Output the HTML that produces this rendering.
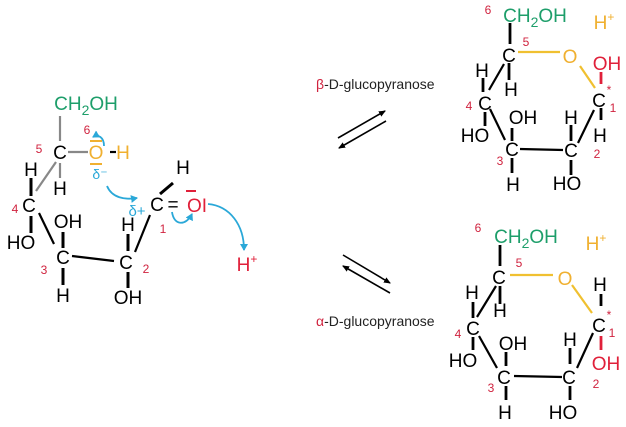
<!DOCTYPE html>
<html><head><meta charset="utf-8"><style>
html,body{margin:0;padding:0;background:#fff;}
svg{display:block;}
text{font-family:"Liberation Sans",sans-serif;}
.a{font-size:19px;fill:#000;text-anchor:middle;}
.n{font-size:12px;fill:#d0233f;text-anchor:middle;}
.g{fill:#1d9e6a;}
.o{fill:#f0b030;}
.r{fill:#e0203a;}
.b{fill:#2aa8d8;}
</style></head><body>
<svg width="626" height="427" viewBox="0 0 626 427" xmlns="http://www.w3.org/2000/svg">
<defs>
<marker id="ab" markerWidth="8" markerHeight="8" refX="6" refY="4" orient="auto" markerUnits="userSpaceOnUse"><path d="M0,0 L7,4 L0,8 Z" fill="#2aa8d8"/></marker>
<marker id="ak" markerWidth="8" markerHeight="8" refX="6" refY="4" orient="auto" markerUnits="userSpaceOnUse"><path d="M0,1 L7,4 L0,7 Z" fill="#000"/></marker>
</defs>

<!-- ===== LEFT open-chain ===== -->
<g stroke-width="2.2" fill="none">
<line x1="60" y1="116" x2="60" y2="141" stroke="#888"/>
<line x1="68" y1="152" x2="88" y2="152" stroke="#888"/>
<line x1="56" y1="162" x2="36" y2="191" stroke="#888"/>
<line x1="60" y1="163" x2="60" y2="178" stroke="#888"/>
<line x1="110" y1="152" x2="116" y2="152" stroke="#000"/>
<line x1="31" y1="178" x2="31" y2="196" stroke="#000" stroke-width="3"/>
<line x1="31" y1="216" x2="31" y2="233" stroke="#000" stroke-width="3"/>
<line x1="39" y1="213" x2="54" y2="244" stroke="#000"/>
<line x1="63" y1="232" x2="63" y2="248" stroke="#000" stroke-width="3"/>
<line x1="72" y1="256" x2="114" y2="261" stroke="#000"/>
<line x1="63" y1="268" x2="63" y2="285" stroke="#000" stroke-width="3"/>
<line x1="128" y1="234" x2="128" y2="251" stroke="#000" stroke-width="3"/>
<line x1="128" y1="272" x2="128" y2="288" stroke="#000" stroke-width="3"/>
<line x1="135" y1="252" x2="150" y2="215" stroke="#000"/>
<line x1="160" y1="194" x2="173" y2="183" stroke="#000" stroke-width="3"/>
<path d="M104,146 C104,137 98,134 93,137" stroke="#2aa8d8" stroke-width="1.8" marker-end="url(#ab)"/>
<path d="M107,186 C112,198 125,200 137,198" stroke="#2aa8d8" stroke-width="1.8" marker-end="url(#ab)"/>
<path d="M172,212 C174,226 186,226 192,214" stroke="#2aa8d8" stroke-width="1.8" marker-end="url(#ab)"/>
<path d="M208,204 C230,206 244,225 244,250" stroke="#2aa8d8" stroke-width="1.8" marker-end="url(#ab)"/>
<line x1="90" y1="141" x2="102" y2="141" stroke="#f0b030" stroke-width="2"/>
<line x1="90" y1="164" x2="102" y2="164" stroke="#f0b030" stroke-width="2"/>
<line x1="186" y1="191" x2="196" y2="191" stroke="#e0203a" stroke-width="2"/>
</g>
<text class="a g" x="86" y="110">CH<tspan font-size="14" dy="5">2</tspan><tspan dy="-5">OH</tspan></text>
<text class="n" x="87" y="134">6</text>
<text class="n" x="39" y="153">5</text>
<text class="a" x="60" y="159">C</text>
<text class="a o" x="96" y="159">O</text>
<text class="a o" x="123" y="159">H</text>
<text class="b" x="100" y="179" font-size="14" text-anchor="middle">δ⁻</text>
<text class="a" x="60" y="195">H</text>
<text class="a" x="31" y="176">H</text>
<text class="n" x="15" y="213">4</text>
<text class="a" x="29" y="212">C</text>
<text class="a" x="21" y="249">HO</text>
<text class="a" x="68" y="228">OH</text>
<text class="n" x="44" y="274">3</text>
<text class="a" x="63" y="264">C</text>
<text class="a" x="63" y="302">H</text>
<text class="a" x="128" y="231">H</text>
<text class="a" x="126" y="269">C</text>
<text class="n" x="146" y="273">2</text>
<text class="a" x="128" y="304">OH</text>
<text class="b" x="137" y="216" font-size="15" text-anchor="middle">δ+</text>
<text class="a" x="157" y="211">C</text>
<text class="a" x="183" y="174">H</text>
<text class="a" x="173" y="211">=</text>
<text class="a r" x="197" y="212">OI</text>
<text class="n" x="163" y="233" font-size="10">1</text>
<text class="a r" x="247" y="271">H<tspan font-size="12" dy="-8">+</tspan></text>

<!-- ===== equilibrium arrows & labels ===== -->
<g stroke="#000" stroke-width="1.6">
<line x1="338" y1="138" x2="385" y2="111" marker-end="url(#ak)"/>
<line x1="386" y1="121" x2="339" y2="148" marker-end="url(#ak)"/>
<line x1="343" y1="255" x2="390" y2="283" marker-end="url(#ak)"/>
<line x1="390" y1="293" x2="343" y2="266" marker-end="url(#ak)"/>
</g>
<text x="316" y="89" font-size="14" fill="#222"><tspan fill="#d0233f">β</tspan>-D-glucopyranose</text>
<text x="316" y="326" font-size="14" fill="#222"><tspan fill="#d0233f">α</tspan>-D-glucopyranose</text>

<!-- ===== beta top right ===== -->
<g stroke-width="2.2" fill="none">
<line x1="510" y1="23" x2="510" y2="44" stroke="#000" stroke-width="2.8"/>
<line x1="518" y1="52" x2="560" y2="52" stroke="#f0c030"/>
<line x1="580" y1="66" x2="595" y2="88" stroke="#f0c030"/>
<line x1="601" y1="72" x2="601" y2="84" stroke="#e0203a" stroke-width="2.8"/>
<line x1="601" y1="108" x2="601" y2="120" stroke="#000" stroke-width="2.8"/>
<line x1="594" y1="110" x2="578" y2="143" stroke="#000"/>
<line x1="571" y1="125" x2="571" y2="141" stroke="#000" stroke-width="2.8"/>
<line x1="571" y1="160" x2="571" y2="175" stroke="#000" stroke-width="2.8"/>
<line x1="520" y1="149" x2="563" y2="150" stroke="#000"/>
<line x1="512" y1="128" x2="512" y2="141" stroke="#000" stroke-width="2.8"/>
<line x1="512" y1="158" x2="512" y2="173" stroke="#000" stroke-width="2.8"/>
<line x1="490" y1="109" x2="505" y2="140" stroke="#000"/>
<line x1="485" y1="112" x2="485" y2="126" stroke="#000" stroke-width="2.8"/>
<line x1="483" y1="78" x2="483" y2="92" stroke="#000" stroke-width="2.8"/>
<line x1="489" y1="90" x2="504" y2="64" stroke="#000"/>
<line x1="509" y1="63" x2="509" y2="80" stroke="#000" stroke-width="2.8"/>
</g>
<text class="n" x="488" y="14">6</text>
<text class="a g" x="535" y="22">CH<tspan font-size="14" dy="5">2</tspan><tspan dy="-5">OH</tspan></text>
<text class="a o" x="604" y="29">H<tspan font-size="12" dy="-8">+</tspan></text>
<text class="n" x="526" y="46">5</text>
<text class="a" x="509" y="62">C</text>
<text class="a o" x="570" y="63">O</text>
<text class="a r" x="607" y="70">OH</text>
<text class="n" x="609" y="94">*</text>
<text class="a" x="599" y="107">C</text>
<text class="n" x="613" y="112">1</text>
<text class="a" x="600" y="142">H</text>
<text class="n" x="597" y="158">2</text>
<text class="a" x="482" y="77">H</text>
<text class="a" x="511" y="96">H</text>
<text class="n" x="469" y="110">4</text>
<text class="a" x="485" y="110">C</text>
<text class="a" x="475" y="142">HO</text>
<text class="a" x="523" y="124">OH</text>
<text class="a" x="512" y="156">C</text>
<text class="n" x="500" y="165">3</text>
<text class="a" x="513" y="191">H</text>
<text class="a" x="571" y="124">H</text>
<text class="a" x="571" y="157">C</text>
<text class="a" x="567" y="190">HO</text>

<!-- ===== alpha bottom right ===== -->
<g stroke-width="2.2" fill="none">
<line x1="500" y1="245" x2="500" y2="266" stroke="#000" stroke-width="2.8"/>
<line x1="510" y1="275" x2="553" y2="275" stroke="#f0c030"/>
<line x1="572" y1="285" x2="592" y2="313" stroke="#f0c030"/>
<line x1="601" y1="294" x2="601" y2="306" stroke="#000" stroke-width="2.8"/>
<line x1="601" y1="336" x2="601" y2="350" stroke="#e0203a" stroke-width="2.8"/>
<line x1="593" y1="333" x2="577" y2="368" stroke="#000"/>
<line x1="570" y1="348" x2="570" y2="364" stroke="#000" stroke-width="2.8"/>
<line x1="570" y1="386" x2="570" y2="400" stroke="#000" stroke-width="2.8"/>
<line x1="514" y1="376" x2="562" y2="377" stroke="#000"/>
<line x1="506" y1="352" x2="506" y2="366" stroke="#000" stroke-width="2.8"/>
<line x1="506" y1="386" x2="506" y2="400" stroke="#000" stroke-width="2.8"/>
<line x1="479" y1="336" x2="497" y2="368" stroke="#000"/>
<line x1="473" y1="337" x2="473" y2="350" stroke="#000" stroke-width="2.8"/>
<line x1="473" y1="302" x2="473" y2="318" stroke="#000" stroke-width="2.8"/>
<line x1="477" y1="317" x2="496" y2="286" stroke="#000"/>
<line x1="500" y1="286" x2="500" y2="304" stroke="#000" stroke-width="2.8"/>
</g>
<text class="n" x="478" y="232">6</text>
<text class="a g" x="526" y="243">CH<tspan font-size="14" dy="5">2</tspan><tspan dy="-5">OH</tspan></text>
<text class="a o" x="596" y="250">H<tspan font-size="12" dy="-8">+</tspan></text>
<text class="n" x="519" y="267">5</text>
<text class="a" x="499" y="284">C</text>
<text class="a o" x="565" y="285">O</text>
<text class="a" x="600" y="291">H</text>
<text class="n" x="609" y="319">*</text>
<text class="a" x="599" y="332">C</text>
<text class="n" x="612" y="337">1</text>
<text class="a r" x="606" y="370">OH</text>
<text class="n" x="596" y="388">2</text>
<text class="a" x="472" y="299">H</text>
<text class="a" x="500" y="317">H</text>
<text class="n" x="458" y="338">4</text>
<text class="a" x="473" y="335">C</text>
<text class="a" x="463" y="367">HO</text>
<text class="a" x="513" y="350">OH</text>
<text class="a" x="504" y="384">C</text>
<text class="n" x="491" y="392">3</text>
<text class="a" x="505" y="419">H</text>
<text class="a" x="570" y="346">H</text>
<text class="a" x="569" y="384">C</text>
<text class="a" x="563" y="419">HO</text>
</svg>
</body></html>
